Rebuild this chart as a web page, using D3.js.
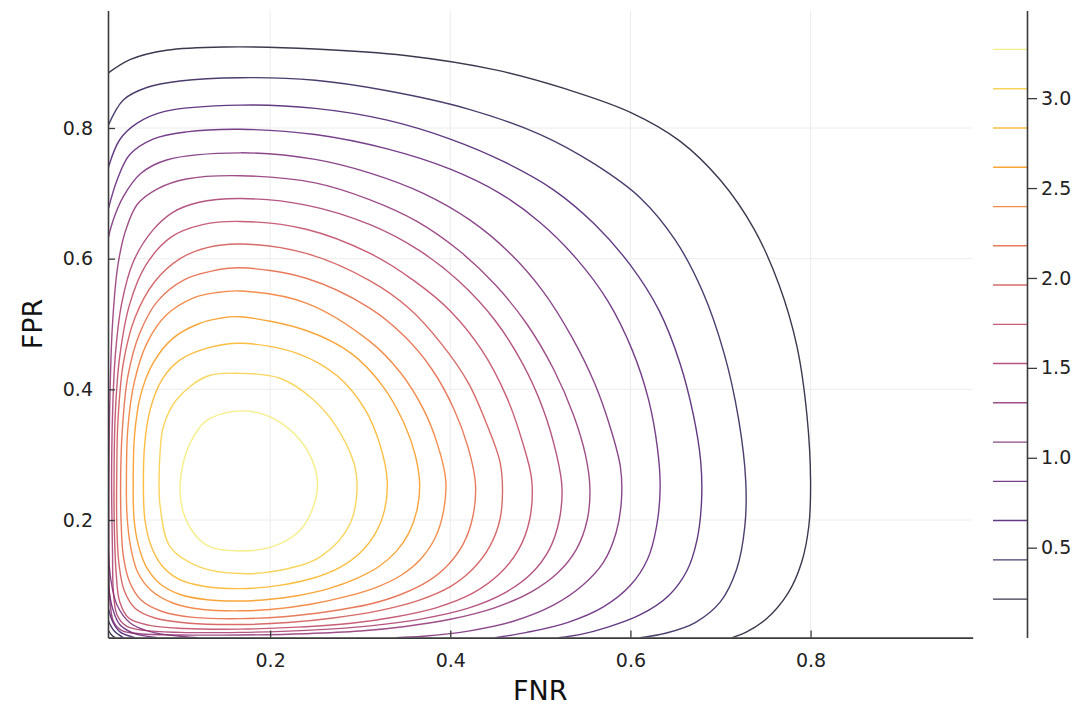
<!DOCTYPE html>
<html>
<head>
<meta charset="utf-8">
<script src="https://cdn.jsdelivr.net/npm/d3@7"></script>
<style>
  body { margin: 0; background: #fff; }
  text { font-family: "DejaVu Sans", sans-serif; }
</style>
</head>
<body>
<div id="chart-container"></div>
<script>
// =====================
// Data
// =====================
const X_LABEL = "FNR";
const Y_LABEL = "FPR";
const X_DOMAIN = [0.02, 0.98];
const Y_DOMAIN = [0.02, 0.98];
const X_TICKS = [0.2, 0.4, 0.6, 0.8];
const Y_TICKS = [0.2, 0.4, 0.6, 0.8];

// colour bar
const Z_DOMAIN = [0, 3.488];
const Z_TICKS = [0.5, 1.0, 1.5, 2.0, 2.5, 3.0];
const LEVELS = [0.214, 0.432, 0.651, 0.869, 1.087, 1.306, 1.524, 1.742,
                1.961, 2.179, 2.397, 2.616, 2.834, 3.052, 3.271];

// contour lines: level index, closed or not, [FNR, FPR] points
const CONTOURS = [
  { lvl: 0, closed: false, pts: [[0.02,0.884],[0.045,0.905],[0.085,0.919],[0.15,0.924],[0.25,0.921],[0.35,0.911],[0.45,0.889],[0.53,0.859],[0.6,0.824],[0.655,0.78],[0.70,0.72],[0.737,0.646],[0.765,0.56],[0.785,0.465],[0.796,0.36],[0.80,0.26],[0.798,0.19],[0.790,0.135],[0.775,0.088],[0.752,0.05],[0.728,0.028],[0.713,0.02]] },
  { lvl: 0, closed: false, pts: [[0.02,0.032],[0.024,0.024],[0.028,0.02]] },

  { lvl: 1, closed: false, pts: [[0.02,0.803],[0.037,0.843],[0.063,0.862],[0.1,0.872],[0.167,0.877],[0.25,0.873],[0.33,0.857],[0.42,0.829],[0.5,0.79],[0.56,0.745],[0.611,0.693],[0.65,0.628],[0.68,0.55],[0.704,0.455],[0.72,0.355],[0.728,0.26],[0.727,0.19],[0.718,0.125],[0.70,0.075],[0.672,0.043],[0.64,0.027],[0.611,0.02]] },
  { lvl: 1, closed: false, pts: [[0.02,0.047],[0.027,0.03],[0.037,0.02]] },

  { lvl: 2, closed: false, pts: [[0.02,0.738],[0.033,0.782],[0.052,0.807],[0.082,0.825],[0.167,0.835],[0.25,0.83],[0.33,0.812],[0.4,0.783],[0.46,0.748],[0.515,0.705],[0.56,0.653],[0.60,0.59],[0.632,0.52],[0.655,0.44],[0.670,0.36],[0.678,0.29],[0.679,0.23],[0.674,0.17],[0.663,0.123],[0.643,0.085],[0.611,0.055],[0.575,0.036],[0.545,0.025],[0.52,0.02]] },
  { lvl: 2, closed: false, pts: [[0.02,0.067],[0.026,0.042],[0.034,0.028],[0.05,0.02]] },

  { lvl: 3, closed: false, pts: [[0.02,0.674],[0.03,0.72],[0.044,0.759],[0.07,0.783],[0.107,0.794],[0.167,0.798],[0.25,0.79],[0.33,0.768],[0.4,0.737],[0.455,0.7],[0.5,0.655],[0.54,0.6],[0.575,0.535],[0.602,0.46],[0.62,0.385],[0.63,0.31],[0.633,0.25],[0.629,0.19],[0.619,0.14],[0.6,0.1],[0.57,0.067],[0.53,0.043],[0.485,0.028],[0.45,0.02]] },
  { lvl: 3, closed: false, pts: [[0.02,0.103],[0.025,0.065],[0.033,0.04],[0.048,0.027],[0.075,0.02]] },

  { lvl: 4, closed: false, pts: [[0.02,0.63],[0.026,0.66],[0.037,0.695],[0.056,0.73],[0.085,0.751],[0.167,0.762],[0.25,0.752],[0.311,0.731],[0.37,0.70],[0.422,0.659],[0.465,0.61],[0.503,0.55],[0.535,0.48],[0.56,0.41],[0.578,0.34],[0.589,0.28],[0.59,0.23],[0.584,0.18],[0.57,0.135],[0.547,0.1],[0.515,0.07],[0.47,0.045],[0.42,0.03],[0.37,0.022],[0.34,0.02]] },
  { lvl: 4, closed: false, pts: [[0.02,0.165],[0.023,0.11],[0.03,0.07],[0.045,0.042],[0.07,0.028],[0.12,0.02]] },

  { lvl: 5, closed: true, pts: [[0.167,0.727],[0.25,0.716],[0.311,0.69],[0.363,0.657],[0.41,0.612],[0.45,0.56],[0.485,0.5],[0.515,0.43],[0.537,0.36],[0.55,0.3],[0.555,0.25],[0.552,0.2],[0.54,0.155],[0.52,0.12],[0.49,0.09],[0.45,0.066],[0.4,0.048],[0.35,0.037],[0.3,0.03],[0.24,0.026],[0.167,0.024],[0.1,0.024],[0.055,0.026],[0.035,0.031],[0.026,0.045],[0.022,0.08],[0.021,0.15],[0.021,0.26],[0.022,0.38],[0.025,0.5],[0.031,0.59],[0.04,0.645],[0.053,0.684],[0.075,0.707],[0.107,0.722]] },

  { lvl: 6, closed: true, pts: [[0.167,0.692],[0.24,0.682],[0.311,0.652],[0.365,0.613],[0.41,0.565],[0.45,0.505],[0.48,0.44],[0.503,0.37],[0.518,0.3],[0.524,0.25],[0.521,0.2],[0.51,0.155],[0.49,0.118],[0.46,0.088],[0.42,0.065],[0.37,0.049],[0.311,0.038],[0.24,0.031],[0.167,0.028],[0.1,0.028],[0.06,0.031],[0.04,0.038],[0.03,0.055],[0.026,0.09],[0.025,0.15],[0.024,0.26],[0.025,0.36],[0.028,0.45],[0.035,0.53],[0.048,0.595],[0.07,0.644],[0.092,0.671],[0.12,0.686]] },

  { lvl: 7, closed: true, pts: [[0.167,0.657],[0.24,0.645],[0.311,0.608],[0.36,0.566],[0.40,0.52],[0.435,0.46],[0.462,0.39],[0.48,0.32],[0.4905,0.26],[0.488,0.2],[0.476,0.155],[0.455,0.118],[0.425,0.088],[0.385,0.066],[0.34,0.052],[0.29,0.042],[0.23,0.036],[0.167,0.033],[0.105,0.034],[0.065,0.039],[0.043,0.05],[0.033,0.075],[0.029,0.12],[0.027,0.19],[0.0267,0.26],[0.028,0.36],[0.033,0.45],[0.044,0.53],[0.062,0.59],[0.09,0.633],[0.125,0.652]] },

  { lvl: 8, closed: true, pts: [[0.167,0.6225],[0.24,0.608],[0.311,0.566],[0.355,0.523],[0.39,0.47],[0.42,0.41],[0.441,0.345],[0.455,0.29],[0.458,0.245],[0.455,0.2],[0.444,0.16],[0.425,0.125],[0.4,0.098],[0.365,0.077],[0.32,0.061],[0.27,0.05],[0.22,0.043],[0.167,0.04],[0.11,0.042],[0.072,0.05],[0.05,0.065],[0.038,0.092],[0.032,0.135],[0.0297,0.2],[0.0297,0.27],[0.031,0.35],[0.037,0.44],[0.05,0.51],[0.072,0.565],[0.1,0.6],[0.13,0.617]] },

  { lvl: 9, closed: true, pts: [[0.167,0.586],[0.24,0.57],[0.311,0.524],[0.35,0.48],[0.38,0.43],[0.404,0.37],[0.42,0.31],[0.428,0.255],[0.425,0.205],[0.415,0.165],[0.398,0.132],[0.375,0.106],[0.345,0.086],[0.31,0.071],[0.265,0.06],[0.215,0.052],[0.167,0.049],[0.115,0.051],[0.08,0.06],[0.057,0.077],[0.044,0.105],[0.037,0.145],[0.0345,0.2],[0.0341,0.27],[0.036,0.34],[0.042,0.42],[0.055,0.485],[0.075,0.535],[0.105,0.568],[0.135,0.581]] },

  { lvl: 10, closed: true, pts: [[0.167,0.5505],[0.24,0.532],[0.311,0.473],[0.345,0.425],[0.37,0.37],[0.386,0.315],[0.395,0.26],[0.392,0.21],[0.383,0.172],[0.367,0.14],[0.345,0.115],[0.318,0.097],[0.285,0.083],[0.245,0.071],[0.2,0.063],[0.167,0.061],[0.125,0.063],[0.092,0.073],[0.068,0.092],[0.053,0.12],[0.045,0.16],[0.041,0.21],[0.0405,0.27],[0.042,0.34],[0.049,0.41],[0.063,0.47],[0.085,0.514],[0.115,0.54],[0.14,0.548]] },

  { lvl: 11, closed: true, pts: [[0.167,0.511],[0.24,0.49],[0.29,0.455],[0.325,0.405],[0.348,0.35],[0.361,0.3],[0.366,0.255],[0.363,0.215],[0.354,0.18],[0.34,0.152],[0.32,0.128],[0.295,0.11],[0.265,0.095],[0.23,0.084],[0.195,0.078],[0.167,0.076],[0.13,0.078],[0.1,0.086],[0.078,0.102],[0.063,0.127],[0.054,0.16],[0.049,0.2],[0.048,0.26],[0.0495,0.33],[0.056,0.39],[0.07,0.44],[0.092,0.478],[0.12,0.5],[0.145,0.509]] },

  { lvl: 12, closed: true, pts: [[0.167,0.4705],[0.23,0.455],[0.275,0.42],[0.305,0.37],[0.322,0.315],[0.33,0.26],[0.327,0.215],[0.317,0.18],[0.3,0.15],[0.278,0.128],[0.25,0.112],[0.21,0.1],[0.167,0.095],[0.125,0.099],[0.098,0.11],[0.08,0.13],[0.068,0.16],[0.061,0.2],[0.0593,0.26],[0.061,0.32],[0.067,0.37],[0.08,0.415],[0.1,0.445],[0.13,0.463]] },

  { lvl: 13, closed: true, pts: [[0.167,0.4245],[0.211,0.417],[0.248,0.384],[0.278,0.333],[0.2956,0.271],[0.289,0.195],[0.256,0.144],[0.211,0.123],[0.167,0.118],[0.122,0.128],[0.089,0.159],[0.078,0.22],[0.0767,0.257],[0.078,0.307],[0.0815,0.343],[0.096,0.384],[0.13,0.42]] },

  { lvl: 14, closed: true, pts: [[0.167,0.367],[0.2,0.358],[0.226,0.333],[0.245,0.297],[0.2526,0.255],[0.245,0.21],[0.23,0.18],[0.2,0.158],[0.167,0.1526],[0.135,0.158],[0.1185,0.1745],[0.104,0.21],[0.1,0.246],[0.104,0.29],[0.115,0.3275],[0.13,0.353]] }
];

// =====================
// SVG setup
// =====================
const svgWidth = 1079;
const svgHeight = 708;

const plot = { left: 108, right: 972.7, top: 10.4, bottom: 637.6 };
const cbarX = 1027;
const cbarLineStart = 993;
const LINE_ALPHA = 0.8;

const svg = d3.select("#chart-container").append("svg")
  .attr("width", svgWidth)
  .attr("height", svgHeight);

const x = d3.scaleLinear().domain(X_DOMAIN).range([plot.left, plot.right]);
const y = d3.scaleLinear().domain(Y_DOMAIN).range([plot.bottom, plot.top]);
const z = d3.scaleLinear().domain(Z_DOMAIN).range([plot.bottom, plot.top]);
const color = v => d3.interpolateInferno(v / Z_DOMAIN[1]);

const fmt = d3.format(".1f");

// grid
const grid = svg.append("g").attr("stroke", "#ececec").attr("stroke-width", 1);
grid.selectAll("line.gx")
  .data(X_TICKS)
  .join("line")
  .attr("class", "gx")
  .attr("x1", d => x(d)).attr("x2", d => x(d))
  .attr("y1", plot.top).attr("y2", plot.bottom);
grid.selectAll("line.gy")
  .data(Y_TICKS)
  .join("line")
  .attr("class", "gy")
  .attr("x1", plot.left).attr("x2", plot.right)
  .attr("y1", d => y(d)).attr("y2", d => y(d));

// contours
svg.append("clipPath").attr("id", "plot-clip")
  .append("rect")
  .attr("x", plot.left).attr("y", plot.top)
  .attr("width", plot.right - plot.left)
  .attr("height", plot.bottom - plot.top);

const openLine = d3.line()
  .x(d => x(d[0])).y(d => y(d[1]))
  .curve(d3.curveCatmullRom.alpha(0.5));
const closedLine = d3.line()
  .x(d => x(d[0])).y(d => y(d[1]))
  .curve(d3.curveCatmullRomClosed.alpha(0.5));

svg.append("g")
  .attr("clip-path", "url(#plot-clip)")
  .selectAll("path")
  .data(CONTOURS)
  .join("path")
  .attr("d", d => (d.closed ? closedLine : openLine)(d.pts))
  .attr("fill", "none")
  .attr("stroke", d => color(LEVELS[d.lvl]))
  .attr("stroke-opacity", LINE_ALPHA)
  .attr("stroke-width", 1.4);

// axes
const xAxis = d3.axisBottom(x)
  .tickValues(X_TICKS)
  .tickFormat(fmt)
  .tickSize(-7)
  .tickSizeOuter(0)
  .tickPadding(16);

const yAxis = d3.axisLeft(y)
  .tickValues(Y_TICKS)
  .tickFormat(fmt)
  .tickSize(-7)
  .tickSizeOuter(0)
  .tickPadding(15);

const xAxisG = svg.append("g")
  .attr("transform", `translate(0,${plot.bottom})`)
  .call(xAxis);

const yAxisG = svg.append("g")
  .attr("transform", `translate(${plot.left},0)`)
  .call(yAxis);

[xAxisG, yAxisG].forEach(g => {
  g.select(".domain").attr("stroke", "#3a3a3a").attr("stroke-width", 1.6);
  g.selectAll(".tick line").attr("stroke", "#3a3a3a").attr("stroke-width", 1.3);
  g.selectAll(".tick text")
    .attr("font-family", "DejaVu Sans, sans-serif")
    .attr("font-size", 19)
    .attr("fill", "#222");
});

// axis labels
svg.append("text")
  .attr("x", (plot.left + plot.right) / 2)
  .attr("y", 700)
  .attr("text-anchor", "middle")
  .attr("font-size", 27)
  .attr("fill", "#111")
  .text(X_LABEL);

svg.append("text")
  .attr("transform", "rotate(-90)")
  .attr("x", -(plot.top + plot.bottom) / 2)
  .attr("y", 42)
  .attr("text-anchor", "middle")
  .attr("font-size", 27)
  .attr("fill", "#111")
  .text(Y_LABEL);

// colour bar
svg.append("g")
  .selectAll("line")
  .data(LEVELS)
  .join("line")
  .attr("x1", cbarLineStart).attr("x2", cbarX)
  .attr("y1", d => z(d)).attr("y2", d => z(d))
  .attr("stroke", d => color(d))
  .attr("stroke-opacity", LINE_ALPHA)
  .attr("stroke-width", 1.4);

const zAxis = d3.axisRight(z)
  .tickValues(Z_TICKS)
  .tickFormat(fmt)
  .tickSize(10)
  .tickSizeOuter(0)
  .tickPadding(4);

const zAxisG = svg.append("g")
  .attr("transform", `translate(${cbarX},0)`)
  .call(zAxis);

zAxisG.select(".domain").attr("stroke", "#3a3a3a").attr("stroke-width", 1.6);
zAxisG.selectAll(".tick line").attr("stroke", "#3a3a3a").attr("stroke-width", 1.3);
zAxisG.selectAll(".tick text")
  .attr("font-family", "DejaVu Sans, sans-serif")
  .attr("font-size", 19)
  .attr("fill", "#222");
</script>
</body>
</html>
